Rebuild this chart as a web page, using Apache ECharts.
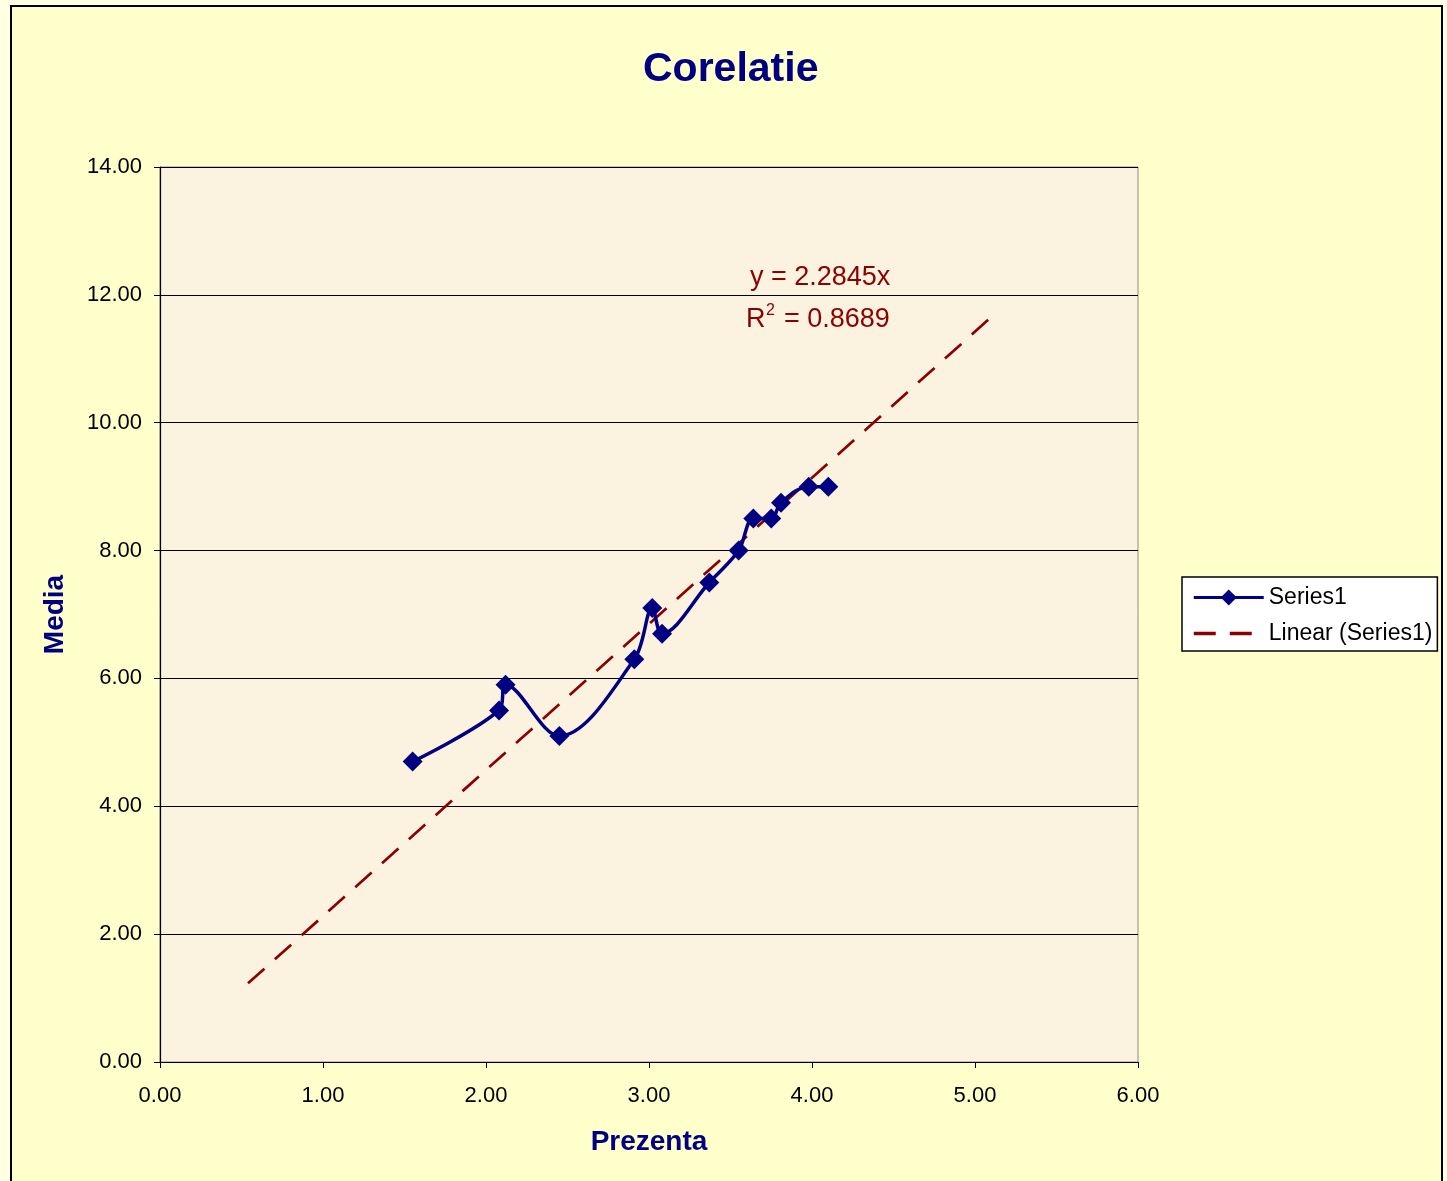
<!DOCTYPE html>
<html>
<head>
<meta charset="utf-8">
<script src="https://cdn.jsdelivr.net/npm/echarts@6/dist/echarts.min.js"></script>
<style>
  html, body { margin: 0; padding: 0; background: #FFFFE4; width: 1447px; height: 1181px; overflow: hidden; }
  #frame { position: absolute; left: 10px; top: 5px; width: 1429px; height: 1190px; border: 2px solid #000; background: #FFFFCC; }
  #chart { position: absolute; left: 0; top: 0; width: 1447px; height: 1181px; }
</style>
</head>
<body>
<div id="frame"></div>
<div id="chart"></div>
<script>
// Data
const prezenta = [1.55, 2.08, 2.12, 2.45, 2.91, 3.02, 3.08, 3.37, 3.55, 3.64, 3.75, 3.81, 3.98, 4.10];
const media    = [4.70, 5.50, 5.90, 5.10, 6.30, 7.10, 6.70, 7.50, 8.00, 8.50, 8.50, 8.75, 9.00, 9.00];
const trendX = [0.54, 5.09];
const trendY = [1.23, 11.63];
const yTicks = ['0.00','2.00','4.00','6.00','8.00','10.00','12.00','14.00'];
const xTicks = ['0.00','1.00','2.00','3.00','4.00','5.00','6.00'];

const FONT = '"Liberation Sans", Arial, sans-serif';
const chart = echarts.init(document.getElementById('chart'), null, { renderer: 'canvas' });

const seriesData = prezenta.map((x, i) => [x, media[i]]);
const trendData = trendX.map((x, i) => [x, trendY[i]]);

chart.setOption({
  animation: false,
  backgroundColor: 'transparent',
  textStyle: { fontFamily: FONT },
  title: {
    text: 'Corelatie',
    left: 638,
    top: 44,
    textStyle: { color: '#000080', fontSize: 41, fontWeight: 'bold', fontFamily: FONT }
  },
  grid: {
    left: 160, top: 167, width: 978, height: 895,
    show: true, backgroundColor: '#FCF2E0', borderColor: '#8C8C8C', borderWidth: 1
  },
  xAxis: {
    type: 'value', min: 0, max: 6, interval: 1,
    name: 'Prezenta', nameLocation: 'middle', nameGap: 66,
    nameTextStyle: { color: '#000080', fontSize: 28, fontWeight: 'bold', fontFamily: FONT },
    axisLine: { show: true, lineStyle: { color: '#000', width: 1.2 } },
    axisTick: { show: true, inside: false, length: 6, lineStyle: { color: '#000' } },
    axisLabel: { color: '#000', fontSize: 22, margin: 23, fontFamily: FONT,
      formatter: v => xTicks[Math.round(v)] },
    splitLine: { show: false }
  },
  yAxis: {
    type: 'value', min: 0, max: 14, interval: 2,
    name: 'Media', nameLocation: 'middle', nameGap: 91, nameRotate: 90,
    nameTextStyle: { color: '#000080', fontSize: 28, fontWeight: 'bold', fontFamily: FONT },
    axisLine: { show: true, lineStyle: { color: '#000', width: 1.2 } },
    axisTick: { show: true, inside: false, length: 6, lineStyle: { color: '#000' } },
    axisLabel: { color: '#000', fontSize: 22, margin: 18, fontFamily: FONT,
      formatter: v => yTicks[Math.round(v / 2)] },
    splitLine: { show: true, lineStyle: { color: '#000', width: 1.2 } }
  },
  legend: {
    orient: 'vertical',
    left: 1182, top: 577,
    padding: [9, 5, 6, 10],
    itemWidth: 70, itemHeight: 20, itemGap: 13,
    backgroundColor: '#FFFFFF',
    borderColor: '#000', borderWidth: 1.5, borderRadius: 0,
    textStyle: { color: '#000', fontSize: 23, fontFamily: FONT },
    data: [
      { name: 'Series1', lineStyle: { width: 3 } },
      { name: 'Linear (Series1)', itemStyle: { opacity: 0 }, lineStyle: { width: 3.5 } }
    ]
  },
  series: [
    {
      name: 'Linear (Series1)',
      type: 'line',
      data: trendData,
      symbol: 'none',
      showSymbol: false,
      lineStyle: { color: '#8B0000', width: 2.7, type: [22, 14] },
      itemStyle: { color: '#8B0000' },
      z: 2
    },
    {
      name: 'Series1',
      type: 'line',
      data: seriesData,
      smooth: 0.35,
      symbol: 'diamond',
      symbolSize: 20,
      lineStyle: { color: '#000080', width: 3.5 },
      itemStyle: { color: '#000080' },
      z: 3
    }
  ],
  graphic: [
    { type: 'text', left: 750, top: 264,
      style: { text: 'y = 2.2845x', fill: '#8B0000', fontSize: 27, fontFamily: FONT } },
    { type: 'text', left: 746, top: 306,
      style: { text: 'R', fill: '#8B0000', fontSize: 27, fontFamily: FONT } },
    { type: 'text', left: 766, top: 303,
      style: { text: '2', fill: '#8B0000', fontSize: 16, fontFamily: FONT } },
    { type: 'text', left: 784, top: 306,
      style: { text: '= 0.8689', fill: '#8B0000', fontSize: 27, fontFamily: FONT } }
  ]
});
</script>
</body>
</html>
